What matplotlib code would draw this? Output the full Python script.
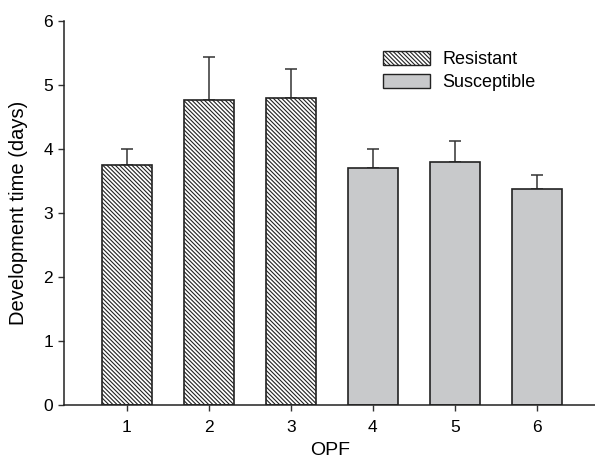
import matplotlib
matplotlib.use("Agg")
import matplotlib.pyplot as plt
from matplotlib.patches import Patch

plt.rcParams['font.family'] = ['Liberation Sans', 'DejaVu Sans']
plt.rcParams['hatch.linewidth'] = 0.8

# data
opf = [1, 2, 3, 4, 5, 6]
means = [3.76, 4.77, 4.80, 3.71, 3.80, 3.37]
errors = [0.25, 0.67, 0.46, 0.29, 0.33, 0.22]
groups = ['Resistant', 'Resistant', 'Resistant', 'Susceptible', 'Susceptible', 'Susceptible']

edge = '#222222'
grey = '#c8c9cb'
hatch = '\\' * 8

fig = plt.figure(figsize=(5.95, 4.62), dpi=100)
ax = fig.add_axes([0.108, 0.1234, 0.892, 0.8305])

for x, m, e, g in zip(opf, means, errors, groups):
    if g == 'Resistant':
        ax.bar(x, m, width=0.61, color='white', edgecolor=edge, hatch=hatch, linewidth=1.2, zorder=2)
    else:
        ax.bar(x, m, width=0.61, color=grey, edgecolor=edge, linewidth=1.2, zorder=2)
    ax.errorbar(x, m, yerr=[[0], [e]], fmt='none', ecolor='#333333', elinewidth=1.1, capsize=4.6, capthick=1.1, zorder=1)

ax.set_xlim(0.236, 6.71)
ax.set_ylim(0, 6)
ax.set_xticks(opf)
ax.set_yticks(range(7))
ax.tick_params(axis='both', labelsize=12.5, direction='out', length=4.5, width=1, color='#333333')
ax.tick_params(axis='x', pad=6)
ax.spines['top'].set_visible(False)
ax.spines['right'].set_visible(False)
for s in ['left', 'bottom']:
    ax.spines[s].set_linewidth(1.1)
    ax.spines[s].set_color('#222222')

ax.set_xlabel('OPF', fontsize=14, labelpad=5)
ax.set_ylabel('Development time (days)', fontsize=14.5, labelpad=11)

handles = [Patch(facecolor='white', edgecolor=edge, hatch=hatch, label='Resistant'),
           Patch(facecolor=grey, edgecolor=edge, label='Susceptible')]
ax.legend(handles=handles, loc='upper left', bbox_to_anchor=(0.569, 0.965), frameon=False,
          fontsize=13, handlelength=2.65, handleheight=0.8, handletextpad=0.65, labelspacing=0.32)

fig.savefig('out.png', dpi=100)
